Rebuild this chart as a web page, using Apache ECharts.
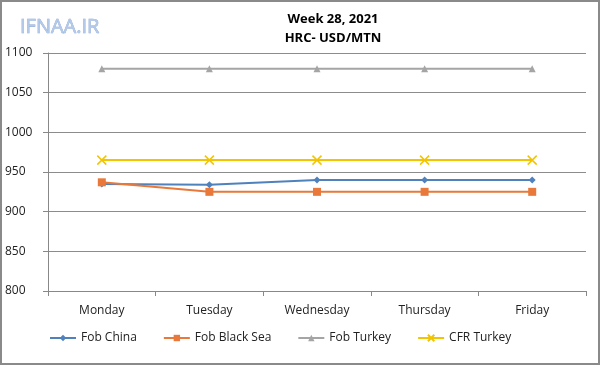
<!DOCTYPE html>
<html><head><meta charset="utf-8">
<script src="https://cdn.jsdelivr.net/npm/echarts@6/dist/echarts.min.js"></script>
<style>html,body{margin:0;padding:0;background:#fff}#c{width:600px;height:365px;box-sizing:border-box;border:2px solid #8a8a8a}</style>
</head><body><div id="c"></div>
<script>
const categories = ['Monday','Tuesday','Wednesday','Thursday','Friday'];
const fobChina = [935, 934, 940, 940, 940];
const fobBlackSea = [937, 925, 925, 925, 925];
const fobTurkey = [1080, 1080, 1080, 1080, 1080];
const cfrTurkey = [965, 965, 965, 965, 965];
const yTicks = [800, 850, 900, 950, 1000, 1050, 1100];

const chart = echarts.init(document.getElementById('c'), null, {renderer:'canvas'});
const font = 'Open Sans';
function s(name, data, color, symbol, size){
  return {name, type:'line', data, symbol, symbolSize:size, showSymbol:true,
    lineStyle:{color, width:2}, itemStyle:{color}, z: 3};
}
chart.setOption({
  animation:false,
  textStyle:{fontFamily:font},
  title:[
    {text:'Week 28, 2021\nHRC- USD/MTN', left:326, top:3, textAlign:'center',
     textStyle:{fontSize:13, fontWeight:'bold', color:'#000', lineHeight:19, fontFamily:font}},
    {text:'IFNAA.IR', left:13, top:10,
     textStyle:{fontSize:20, fontWeight:'normal', color:'#b3c9ea', fontFamily:font,
       textBorderColor:'#86a2d0', textBorderWidth:0.6}}
  ],
  legend:{bottom:14, left:42, itemGap:26, itemWidth:26, itemHeight:8,
    textStyle:{fontSize:12, color:'#222', fontFamily:font},
    data:['Fob China','Fob Black Sea','Fob Turkey','CFR Turkey']},
  grid:{left:45, right:12, top:51, bottom:72, containLabel:false},
  xAxis:{type:'category', data:categories, boundaryGap:true,
    axisLine:{lineStyle:{color:'#888'}},
    axisTick:{show:true, length:5, lineStyle:{color:'#888'}},
    axisLabel:{fontSize:12, color:'#222', margin:14}},
  yAxis:{type:'value', min:800, max:1100, interval:50,
    axisLine:{show:true, lineStyle:{color:'#888'}},
    axisTick:{show:true, length:5, lineStyle:{color:'#888'}},
    splitLine:{lineStyle:{color:'#8c8c8c'}},
    axisLabel:{fontSize:12, color:'#222', align:'left', margin:43,
      formatter: v => yTicks.includes(v) ? String(v) : ''}},
  series:[
    s('Fob China', fobChina, '#4f81bd', 'diamond', 7),
    s('Fob Black Sea', fobBlackSea, '#e8793a', 'rect', 8),
    s('Fob Turkey', fobTurkey, '#a5a5a5', 'triangle', 7),
    {name:'CFR Turkey', type:'line', data:cfrTurkey, symbol:'path://M0,0L10,10M10,0L0,10', symbolSize:9,
     lineStyle:{color:'#f2c500', width:2}, itemStyle:{color:'none', borderColor:'#f2c500', borderWidth:1.5}}
  ]
});
</script></body></html>
